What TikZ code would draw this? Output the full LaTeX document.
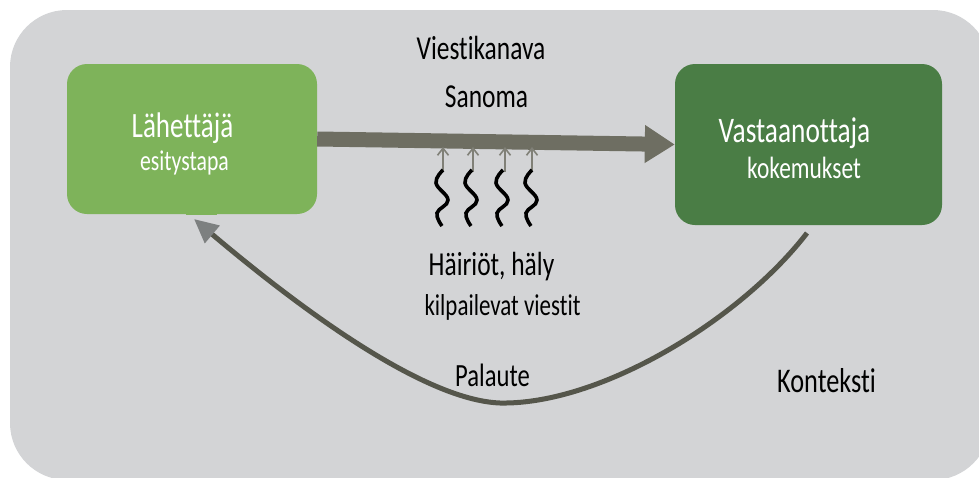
\documentclass[tikz,border=0pt]{standalone}
\usepackage{fontspec}
\setmainfont[FakeStretch=0.76,Ligatures={NoCommon}]{Carlito}
\usetikzlibrary{arrows.meta}
\definecolor{bggray}{HTML}{D3D4D6}
\definecolor{lightgreen}{HTML}{7EB35A}
\definecolor{darkgreen}{HTML}{4A7D45}
\definecolor{bargray}{HTML}{6E6E62}
\definecolor{curvegray}{HTML}{55564B}
\definecolor{headgray}{HTML}{7D8080}
\definecolor{thingray}{HTML}{808077}
\tikzset{
  box/.style={draw=none, rounded corners=20pt, inner sep=0pt},
  lbl/.style={anchor=base, inner sep=0pt, text=black},
  wlbl/.style={anchor=base, inner sep=0pt, text=white},
  mainarrow/.style={bargray, line width=15pt, -{Triangle[length=30pt,width=36pt]}},
  fbarrow/.style={curvegray, line width=5pt, -{Triangle[length=24pt,width=22pt,color=headgray]}},
  noisearrow/.style={thingray, line width=1.6pt, -{Straight Barb[length=7pt,width=11pt]}},
  wave/.style={black, line width=3.6pt},
}
\newcommand{\fsz}[1]{\fontsize{#1pt}{#1pt}\selectfont}
\begin{document}
\begin{tikzpicture}[x=1pt,y=-1pt]
\useasboundingbox (0,0) rectangle (979,477);
\begin{scope}
\clip (0,0) rectangle (979,477);
\fill[bggray, rounded corners=57pt] (10,10) rectangle (990,480);
\end{scope}
% boxes
\node[box, fill=lightgreen, minimum width=250pt, minimum height=150pt] (send) at (192,139) {};
\fill[lightgreen] (186,210) rectangle (217,215);
\node[box, fill=darkgreen, minimum width=267pt, minimum height=161pt] (recv) at (808.5,144.5) {};
% box texts
\node[wlbl] (sendt) at (182.5,137) {\fsz{35.6}Lähettäjä};
\node[wlbl] (sends) at (184.5,170) {\fsz{28.6}esitystapa};
\node[wlbl] (recvt) at (794.5,142) {\fsz{36}Vastaanottaja};
\node[wlbl] (recvs) at (804,178) {\fsz{30.8}kokemukset};
% main arrow
\draw[mainarrow] (send.east) -- (recv.west);
% labels
\node[lbl] (kanava) at (481,59) {\fsz{33.5}Viestikanava};
\node[lbl] (sanoma) at (486.5,107) {\fsz{33.5}Sanoma};
\node[lbl] (hairiot) at (491.5,275) {\fsz{33.5}Häiriöt, häly};
\node[lbl] (kilp) at (502.5,315) {\fsz{30.2}kilpailevat viestit};
\node[lbl] (palaute) at (492.5,386) {\fsz{32.4}Palaute};
\node[lbl] (konteksti) at (826.5,392) {\fsz{34.6}Konteksti};
% noise
\foreach \x/\xa in {443/443, 472/473, 503/505, 532/532}{
  \coordinate (n\x a) at (\xa,172);
  \coordinate (n\x b) at (\xa,147);
  \draw[noisearrow] (n\x a) -- (n\x b);
  \draw[wave] plot[smooth, tension=0.7] coordinates {(\x,170) (\x-7,183) (\x+5,200) (\x-6,213) (\x-1,226)};
}
% feedback
\coordinate (fbs) at (807,233);
\coordinate (fbm) at (500,403);
\coordinate (fbe) at (194,219);
\draw[fbarrow] (fbs) .. controls (740,320) and (600,405) .. (fbm)
  .. controls (420,400) and (290,300) .. (fbe);
\end{tikzpicture}
\end{document}
